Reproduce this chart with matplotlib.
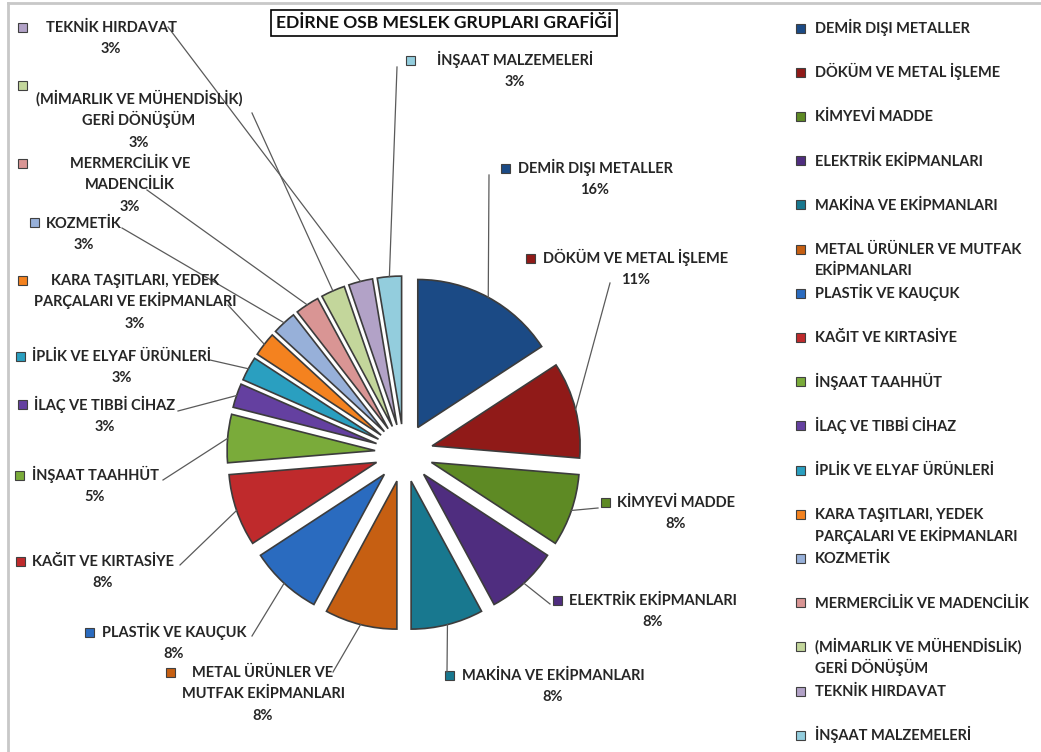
import math
import matplotlib.pyplot as plt
from matplotlib.patches import Rectangle

W, H = 1041, 752

categories = [
    "DEMİR DIŞI METALLER", "DÖKÜM VE METAL İŞLEME", "KİMYEVİ MADDE",
    "ELEKTRİK EKİPMANLARI", "MAKİNA VE EKİPMANLARI",
    "METAL ÜRÜNLER VE MUTFAK EKİPMANLARI", "PLASTİK VE KAUÇUK",
    "KAĞIT VE KIRTASİYE", "İNŞAAT TAAHHÜT", "İLAÇ VE TIBBİ CİHAZ",
    "İPLİK VE ELYAF ÜRÜNLERİ", "KARA TAŞITLARI, YEDEK PARÇALARI VE EKİPMANLARI",
    "KOZMETİK", "MERMERCİLİK VE MADENCİLİK",
    "(MİMARLIK VE MÜHENDİSLİK) GERİ DÖNÜŞÜM", "TEKNİK HIRDAVAT",
    "İNŞAAT MALZEMELERİ",
]
counts = [6, 4, 3, 3, 3, 3, 3, 3, 2, 1, 1, 1, 1, 1, 1, 1, 1]
colors = [
    "#1b4a85", "#901a18", "#5e8a24", "#4f2d7f", "#18788f", "#c65f12",
    "#2a6bbf", "#bf2a2c", "#7aab3a", "#6440a0", "#2a9fc0", "#f4821f",
    "#97b0d9", "#d99594", "#c3d69b", "#b2a2c7", "#93cddd",
]

# wrapped text for the data labels and the legend
label_wrap = {
    "METAL ÜRÜNLER VE MUTFAK EKİPMANLARI": "METAL ÜRÜNLER VE\nMUTFAK EKİPMANLARI",
    "KARA TAŞITLARI, YEDEK PARÇALARI VE EKİPMANLARI": "KARA TAŞITLARI, YEDEK\nPARÇALARI VE EKİPMANLARI",
    "MERMERCİLİK VE MADENCİLİK": "MERMERCİLİK VE\nMADENCİLİK",
    "(MİMARLIK VE MÜHENDİSLİK) GERİ DÖNÜŞÜM": "(MİMARLIK VE MÜHENDİSLİK)\nGERİ DÖNÜŞÜM",
}
legend_wrap = {
    "METAL ÜRÜNLER VE MUTFAK EKİPMANLARI": "METAL ÜRÜNLER VE MUTFAK\nEKİPMANLARI",
    "KARA TAŞITLARI, YEDEK PARÇALARI VE EKİPMANLARI": "KARA TAŞITLARI, YEDEK\nPARÇALARI VE EKİPMANLARI",
    "(MİMARLIK VE MÜHENDİSLİK) GERİ DÖNÜŞÜM": "(MİMARLIK VE MÜHENDİSLİK)\nGERİ DÖNÜŞÜM",
}

# label layout in image pixels (y downwards):
# text centre x, first line y, key x, key y, leader end x, leader end y
label_layout = [
    (595, 168, 505, 168, 489, 175),
    (636, 258, 530, 258, 610, 283),
    (676, 502, 605, 502, 598, 508),
    (653, 600, 558, 600, 550, 604),
    (553, 675, 452, 675, 447, 672),
    (263, 672, 170, 672, 333, 672),
    (174, 632, 92, 632, 252, 636),
    (103, 561, 22, 561, 180, 565),
    (95, 475, 22, 475, 163, 480),
    (105, 405, 22, 404, 178, 411),
    (122, 356, 22, 356, 210, 360),
    (135, 280, 22, 280, 228, 305),
    (84, 223, 36, 222, 122, 228),
    (130, 163, 22, 163, 147, 190),
    (139, 99, 22, 85, 252, 113),
    (111, 27, 22, 27, 168, 27),
    (515, 60, 410, 60, 397, 67),
]

FONT = "Lato"
TXT = "#262626"
KEY = 9
FS = 10.5
PITCH = 21.3


def Y(y):
    return H - y


def lines(x, y, s, ha):
    # one text per line so the pitch stays fixed
    out = []
    for k, line in enumerate(s.split("\n")):
        out.append(ax.text(x, Y(y + 5 + k * PITCH), line, ha=ha, va="baseline",
                           fontsize=FS, family=FONT, weight="bold", color=TXT))
    return out


fig = plt.figure(figsize=(W / 100, H / 100), dpi=100)
ax = fig.add_axes([0, 0, 1, 1])

wedges, _ = ax.pie(
    counts, colors=colors, startangle=90, counterclock=False,
    explode=[29] * len(counts), radius=148, center=(404, Y(453)),
    wedgeprops=dict(edgecolor="#3c3c3c", linewidth=1.2),
)
ax.set_xlim(0, W)
ax.set_ylim(0, H)
ax.axis("off")
renderer = fig.canvas.get_renderer()

total = sum(counts)
for w, cat, v, lay in zip(wedges, categories, counts, label_layout):
    tx, ty, kx, ky, lx, ly = lay
    m = math.radians((w.theta1 + w.theta2) / 2)
    px = w.center[0] + w.r * math.cos(m)
    py = w.center[1] + w.r * math.sin(m)
    ax.plot([lx, px], [Y(ly), py], color="#5a5a5a", lw=0.9)
    txt = label_wrap.get(cat, cat) + f"\n{v / total * 100:.0f}%"
    first = lines(tx, ty, txt, "center")[0]
    left = first.get_window_extent(renderer).x0
    kx = min(kx, left - 12)
    ax.add_patch(Rectangle((kx - KEY / 2, Y(ky) - KEY / 2), KEY, KEY,
                           facecolor=w.get_facecolor(), edgecolor="#404040", lw=0.8))

# legend on the right, fixed slot spacing
for i, (cat, c) in enumerate(zip(categories, colors)):
    y = 28 + i * 44.2
    ax.add_patch(Rectangle((800 - KEY / 2, Y(y) - KEY / 2), KEY, KEY,
                           facecolor=c, edgecolor="#404040", lw=0.8))
    lines(815, y, legend_wrap.get(cat, cat), "left")

ax.text(444, Y(23), "EDİRNE OSB MESLEK GRUPLARI GRAFİĞİ", ha="center", va="center",
        fontsize=12.6, family=FONT, weight="bold", color="#111111",
        bbox=dict(boxstyle="square,pad=0.3", facecolor="white", edgecolor="black", lw=1.2))

# outer frame
ax.plot([8, W], [Y(3), Y(3)], color="#c8c8c8", lw=2)
ax.plot([8, 8], [Y(3), 0], color="#c8c8c8", lw=2)

fig.savefig("out.png", dpi=100)
